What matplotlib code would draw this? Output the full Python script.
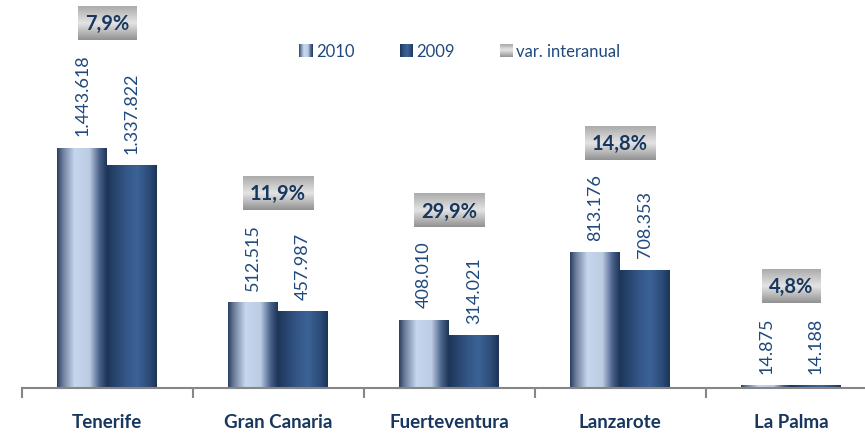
import numpy as np
import matplotlib
matplotlib.use("Agg")
import matplotlib.pyplot as plt
from matplotlib.colors import LinearSegmentedColormap
from matplotlib.legend_handler import HandlerBase
from matplotlib.patches import Rectangle

islas = ["Tenerife", "Gran Canaria", "Fuerteventura", "Lanzarote", "La Palma"]
v2010 = [1443618, 512515, 408010, 813176, 14875]
v2009 = [1337822, 457987, 314021, 708353, 14188]
var_pct = ["7,9%", "11,9%", "29,9%", "14,8%", "4,8%"]
series = ["2010", "2009", "var. interanual"]

azul_txt = "#1F497D"
azul_osc = "#17375E"
gris = "#868686"

plt.rcParams["font.family"] = ["Lato", "DejaVu Sans"]

cmap10 = LinearSegmentedColormap.from_list("c10", [
    (0.0, "#2A3F62"), (0.12, "#6D7F9C"), (0.35, "#C5D6EE"),
    (0.65, "#BCCCE3"), (0.85, "#4A628A"), (1.0, "#1E3559")])
cmap09 = LinearSegmentedColormap.from_list("c09", [
    (0.0, "#1D3659"), (0.4, "#35588A"), (0.6, "#3B6395"),
    (0.85, "#2C4B78"), (1.0, "#1C3457")])
cmapgr = LinearSegmentedColormap.from_list("cgr", [
    (0.0, "#ABABAB"), (0.5, "#E4E4E4"), (1.0, "#929292")])


class HandlerGrad(HandlerBase):
    def __init__(self, cmap, vertical=False):
        super().__init__()
        self.cmap = cmap
        self.vertical = vertical

    def create_artists(self, legend, orig_handle, xd, yd, w, h, fontsize, trans):
        n = 14
        arts = []
        for k in range(n):
            c = self.cmap((k + 0.5) / n)
            if self.vertical:
                r = Rectangle((-xd, -yd + h * (n - 1 - k) / n), w, h / n,
                              fc=c, ec="none", transform=trans)
            else:
                r = Rectangle((-xd + w * k / n, -yd), w / n, h,
                              fc=c, ec="none", transform=trans)
            arts.append(r)
        return arts


def fmt(v):
    return f"{v:,}".replace(",", ".")


fig = plt.figure(figsize=(8.65, 4.35), dpi=100)
ax = fig.add_axes([21.5 / 865, 46 / 435, (865 - 21.5) / 865, 389 / 435])

x = np.arange(len(islas))
w = 0.292
b1 = ax.bar(x - w / 2, v2010, w, color="none")
b2 = ax.bar(x + w / 2, v2009, w, color="none")

grad = np.linspace(0, 1, 256)[None, :]
for bars, cm in ((b1, cmap10), (b2, cmap09)):
    for r in bars:
        x0 = r.get_x()
        ax.imshow(grad, extent=[x0, x0 + r.get_width(), 0, r.get_height()],
                  cmap=cm, aspect="auto", zorder=2, interpolation="bilinear")

ax.set_xlim(-0.5, -0.5 + (865 - 21.5) / 171)
ax.set_ylim(0, 2.34e6)
ax.set_autoscale_on(False)

cajas = []
for i in x:
    l1 = ax.annotate(fmt(v2010[i]), (i - w / 2, v2010[i]), xytext=(0, 13),
                     textcoords="offset pixels", rotation=90, ha="center",
                     va="bottom", fontsize=13, color=azul_txt)
    l2 = ax.annotate(fmt(v2009[i]), (i + w / 2, v2009[i]), xytext=(0, 13),
                     textcoords="offset pixels", rotation=90, ha="center",
                     va="bottom", fontsize=13, color=azul_txt)
    top = l1 if v2010[i] >= v2009[i] else l2
    t = ax.annotate(var_pct[i], xy=(i, 1), xycoords=("data", top),
                    xytext=(0, 30), textcoords="offset pixels",
                    ha="center", va="center", fontsize=14.5, fontweight="bold",
                    color=azul_osc, zorder=5,
                    bbox=dict(boxstyle="square,pad=0.33", fc="#C8C8C8", ec="none"))
    cajas.append(t)

# ejes
ax.set_yticks([])
for s in ("left", "top", "right"):
    ax.spines[s].set_visible(False)
ax.spines["bottom"].set_color(gris)
ax.spines["bottom"].set_linewidth(1.5)
ax.set_xticks(np.arange(-0.5, 5, 1))
ax.set_xticklabels([])
ax.tick_params(axis="x", which="major", length=7, width=1.5, color=gris)
ax.set_xticks(x, minor=True)
ax.set_xticklabels(islas, minor=True, fontsize=13.5, fontweight="bold", color=azul_osc)
ax.tick_params(axis="x", which="minor", length=0, pad=18)

h1, h2, h3 = Rectangle((0, 0), 1, 1), Rectangle((0, 0), 1, 1), Rectangle((0, 0), 1, 1)
fig.legend(handles=[h1, h2, h3], labels=series,
           handler_map={h1: HandlerGrad(cmap10), h2: HandlerGrad(cmap09),
                        h3: HandlerGrad(cmapgr, vertical=True)},
           loc="center", bbox_to_anchor=(460 / 865, 1 - 52 / 435), ncol=3,
           frameon=False, fontsize=12, handlelength=0.8, handleheight=0.8,
           handletextpad=0.2, columnspacing=2.7, labelcolor=azul_txt)

# degradado gris en las cajas de variacion
fig.canvas.draw()
rend = fig.canvas.get_renderer()
inv = ax.transData.inverted()
vgrad = np.linspace(0, 1, 64)[:, None]
for t in cajas:
    bb = t.get_bbox_patch().get_window_extent(rend)
    (dx0, dy0), (dx1, dy1) = inv.transform([[bb.x0, bb.y0], [bb.x1, bb.y1]])
    ax.imshow(vgrad, extent=[dx0, dx1, dy0, dy1], origin="upper", cmap=cmapgr,
              aspect="auto", zorder=4, interpolation="bilinear")
    t.get_bbox_patch().set_facecolor("none")

ax.set_xlim(-0.5, -0.5 + (865 - 21.5) / 171)
ax.set_ylim(0, 2.34e6)

fig.savefig("out.png", dpi=100)
